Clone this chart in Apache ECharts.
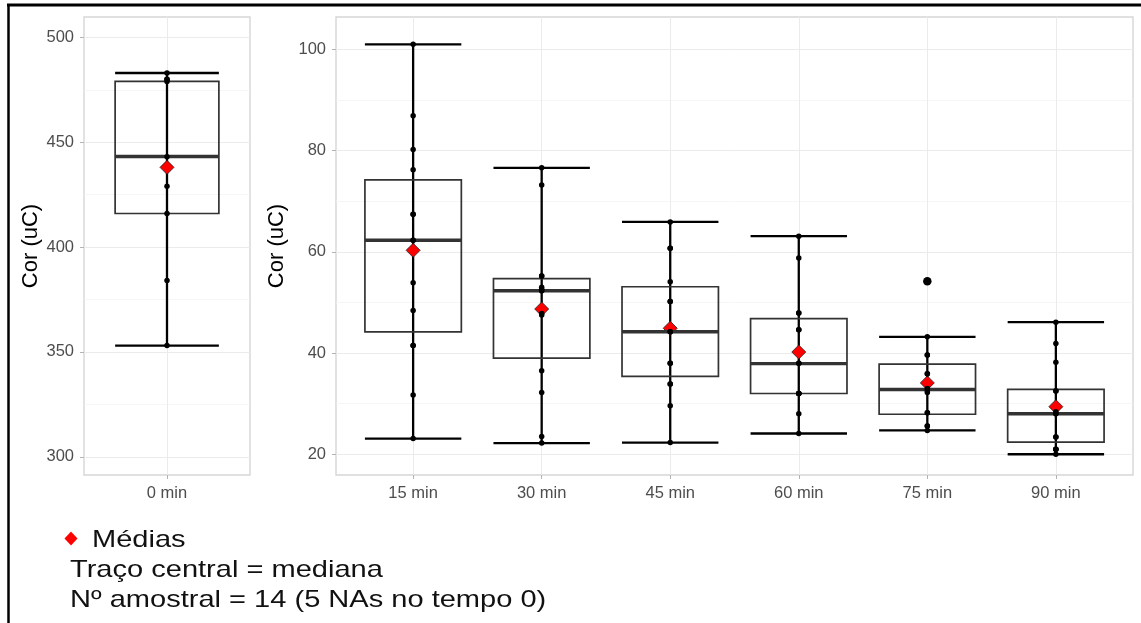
<!DOCTYPE html>
<html><head><meta charset="utf-8">
<script src="https://cdn.jsdelivr.net/npm/echarts@6/dist/echarts.min.js"></script>
<style>html,body{margin:0;padding:0;background:#fff}#c{width:1141px;height:623px}</style>
</head><body><div id="c"></div><script>
// ---- data ----
const categories  = ['0 min', '15 min', '30 min', '45 min', '60 min', '75 min', '90 min'];
const panelOf     = [0, 1, 1, 1, 1, 1, 1];
const whiskerLow  = [353, 23.1, 22.2, 22.3, 24.1, 24.7, 20.0];
const q1          = [416, 44.2, 39.0, 35.4, 32.0, 27.9, 22.4];
const median      = [443.2, 62.3, 52.3, 44.2, 37.9, 32.8, 28.0];
const q3          = [479, 74.2, 54.7, 53.1, 46.8, 37.8, 32.8];
const whiskerHigh = [483, 101.0, 76.6, 65.9, 63.1, 43.2, 46.1];
const means       = [438, 60.3, 48.7, 44.9, 40.2, 34.1, 29.4];
const points0  = [483, 480, 480, 479, 443, 429, 416, 384, 353];
const points15 = [101, 86.9, 80.2, 76.2, 67.4, 67.4, 62.3, 62.3, 53.9, 48.4, 41.5, 41.5, 31.7, 23.1];
const points30 = [76.6, 73.2, 55.2, 55.2, 53, 52.6, 52.3, 52.3, 47.8, 47.5, 36.5, 32.2, 23.5, 22.2];
const points45 = [65.9, 60.7, 60.7, 54.1, 50.2, 50.2, 44.2, 44.2, 38, 38, 33.9, 33.9, 29.6, 22.3];
const points60 = [63.1, 58.8, 47.9, 47.9, 44.6, 44.6, 38, 38, 32, 32, 32, 32, 28, 24.1];
const points75 = [43.2, 39.6, 39.6, 35.9, 35.9, 33, 32.6, 32.2, 28.2, 28.2, 25.6, 25.6, 24.7];
const points90 = [46.1, 41.9, 38.2, 32.5, 32.5, 28.4, 28, 28, 23.4, 23.4, 21, 21, 21, 20];
const pointsByCategory = [points0, points15, points30, points45, points60, points75, points90];
const outlierCategory = ['75 min'];
const outlierValue    = [54.2];
const yTicksLeft  = [300, 350, 400, 450, 500];
const yTicksRight = [20, 40, 60, 80, 100];
const yRangeLeft  = [291.3, 509.7];
const yRangeRight = [15.9, 106.4];
const yTitle = 'Cor (uC)';
const noteLines = ['Médias', 'Traço central = mediana', 'Nº amostral = 14 (5 NAs no tempo 0)'];

// ---- helpers ----
const FONT = '"Liberation Sans", Arial, sans-serif';
const BOX_W = 0.75;
function panelCats(p) { return categories.filter((c, i) => panelOf[i] === p); }
function xPos(i) { const p = panelOf[i]; return categories.slice(0, i).filter((c, j) => panelOf[j] === p).length; }
function idxOfPanel(p) { return categories.map((c, i) => i).filter(i => panelOf[i] === p); }

const grids = [
  { left: 84, top: 17, width: 166, height: 458 },
  { left: 336, top: 17, width: 797, height: 458 }
].map(g => Object.assign(g, { show: true, borderColor: '#d6d6d6', borderWidth: 1.4, backgroundColor: '#fff' }));

const xAxes = [0, 1].map(p => {
  const cats = panelCats(p);
  const vals = cats.map((c, k) => k);
  return {
    gridIndex: p, type: 'value', min: -0.6, max: cats.length - 1 + 0.6, position: 'bottom',
    axisLine: { show: false, onZero: false },
    axisTick: { show: true, customValues: vals, length: 4, lineStyle: { color: '#b3b3b3', width: 1 } },
    axisLabel: { customValues: vals, formatter: v => cats[Math.round(v)] || '', color: '#4d4d4d', fontSize: 16.5, fontFamily: FONT, margin: 10 },
    splitLine: { show: true, lineStyle: { color: '#ebebeb', width: 1 } }
  };
});

const yAxes = [0, 1].map(p => {
  const ticks = p === 0 ? yTicksLeft : yTicksRight;
  const range = p === 0 ? yRangeLeft : yRangeRight;
  return {
    gridIndex: p, type: 'value', min: range[0], max: range[1], position: 'left',
    name: yTitle, nameLocation: 'middle', nameRotate: 90, nameGap: 42,
    nameTextStyle: { color: '#000', fontSize: 22, fontFamily: FONT },
    axisLine: { show: false, onZero: false },
    axisTick: { show: true, customValues: ticks, length: 4, lineStyle: { color: '#b3b3b3', width: 1 } },
    axisLabel: { customValues: ticks, color: '#4d4d4d', fontSize: 16.5, fontFamily: FONT, margin: 10 },
    splitLine: { show: true, lineStyle: { color: '#ebebeb', width: 1 } },
    minorTick: { show: false, splitNumber: 2 },
    minorSplitLine: { show: true, lineStyle: { color: '#f4f4f4', width: 0.8 } }
  };
});

function renderErr(params, api) {
  const x = api.value(0);
  const lo = api.coord([x, api.value(1)]);
  const hi = api.coord([x, api.value(5)]);
  const w = api.size([BOX_W, 0])[0];
  const st = { stroke: '#000', lineWidth: 2.3 };
  return { type: 'group', children: [
    { type: 'line', shape: { x1: lo[0], y1: lo[1], x2: hi[0], y2: hi[1] }, style: st },
    { type: 'line', shape: { x1: lo[0] - w / 2, y1: lo[1], x2: lo[0] + w / 2, y2: lo[1] }, style: st },
    { type: 'line', shape: { x1: hi[0] - w / 2, y1: hi[1], x2: hi[0] + w / 2, y2: hi[1] }, style: st }
  ]};
}
function renderBox(params, api) {
  const x = api.value(0);
  const a = api.coord([x, api.value(4)]);
  const b = api.coord([x, api.value(2)]);
  const m = api.coord([x, api.value(3)]);
  const w = api.size([BOX_W, 0])[0];
  return { type: 'group', children: [
    { type: 'rect', shape: { x: a[0] - w / 2, y: a[1], width: w, height: b[1] - a[1] }, style: { fill: 'none', stroke: '#333', lineWidth: 1.7 } },
    { type: 'line', shape: { x1: m[0] - w / 2, y1: m[1], x2: m[0] + w / 2, y2: m[1] }, style: { stroke: '#333', lineWidth: 3.4 } }
  ]};
}

const series = [];
[0, 1].forEach(p => {
  const idx = idxOfPanel(p);
  const boxData = idx.map(i => [xPos(i), whiskerLow[i], q1[i], median[i], q3[i], whiskerHigh[i]]);
  series.push({ type: 'custom', xAxisIndex: p, yAxisIndex: p, renderItem: renderErr, data: boxData, encode: { x: 0, y: [1, 2, 3, 4, 5] }, silent: true, z: 2 });
  series.push({ type: 'scatter', xAxisIndex: p, yAxisIndex: p, symbol: 'diamond', symbolSize: 14,
    itemStyle: { color: '#ff0000', borderColor: '#222', borderWidth: 0.8, opacity: 1 },
    data: idx.map(i => [xPos(i), means[i]]), silent: true, z: 3 });
  series.push({ type: 'custom', xAxisIndex: p, yAxisIndex: p, renderItem: renderBox, data: boxData, encode: { x: 0, y: [1, 2, 3, 4, 5] }, silent: true, z: 4 });
  const pts = [];
  idx.forEach(i => pointsByCategory[i].forEach(v => pts.push([xPos(i), v])));
  series.push({ type: 'scatter', xAxisIndex: p, yAxisIndex: p, symbol: 'circle', symbolSize: 5.5,
    itemStyle: { color: '#000', opacity: 1 }, data: pts, silent: true, z: 5 });
  const outs = [];
  outlierCategory.forEach((c, k) => { const i = categories.indexOf(c); if (panelOf[i] === p) outs.push([xPos(i), outlierValue[k]]); });
  series.push({ type: 'scatter', xAxisIndex: p, yAxisIndex: p, symbol: 'circle', symbolSize: 8.5,
    itemStyle: { color: '#000', opacity: 1 }, data: outs, silent: true, z: 5 });
});

const graphic = [
  { type: 'line', shape: { x1: 7, y1: 5, x2: 1141, y2: 5 }, style: { stroke: '#000', lineWidth: 3 } },
  { type: 'line', shape: { x1: 8.5, y1: 4, x2: 8.5, y2: 623 }, style: { stroke: '#000', lineWidth: 2.5 } },
  { type: 'polygon', shape: { points: [[71, 531.5], [77.5, 538.5], [71, 545.5], [64.5, 538.5]] }, style: { fill: '#ff0000' } },
  { type: 'text', x: 92, y: 540, scaleX: 1.21, style: { text: noteLines[0], font: '24px ' + FONT, fill: '#111', verticalAlign: 'middle' } },
  { type: 'text', x: 70, y: 570, scaleX: 1.21, style: { text: noteLines[1], font: '24px ' + FONT, fill: '#111', verticalAlign: 'middle' } },
  { type: 'text', x: 70, y: 600, scaleX: 1.21, style: { text: noteLines[2], font: '24px ' + FONT, fill: '#111', verticalAlign: 'middle' } }
];

const chart = echarts.init(document.getElementById('c'), null, { renderer: 'canvas' });
chart.setOption({
  animation: false,
  backgroundColor: '#fff',
  grid: grids, xAxis: xAxes, yAxis: yAxes, series: series, graphic: graphic
});
</script></body></html>
